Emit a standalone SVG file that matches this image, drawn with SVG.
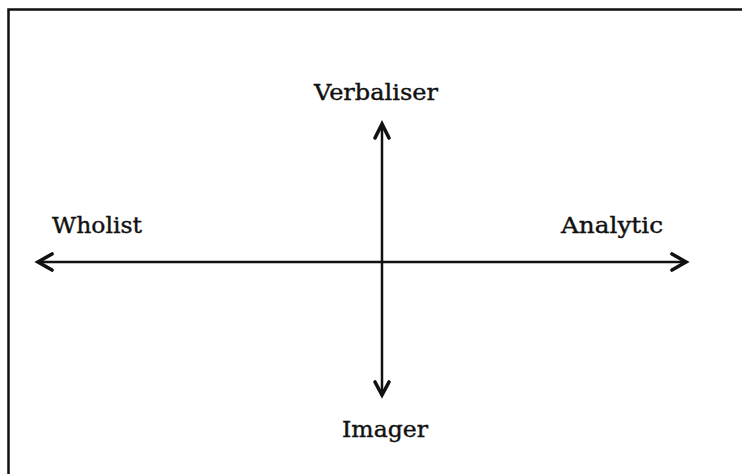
<svg xmlns="http://www.w3.org/2000/svg" width="742" height="474" viewBox="0 0 742 474">
<defs>
<style>
.lbl{font-family:"DejaVu Serif","Liberation Serif",serif;font-size:22px;fill:#111;stroke:#111;stroke-width:0.4;}
.ax{stroke:#111;stroke-width:2.5;fill:none;}
.hd{stroke:#111;stroke-width:3.6;fill:none;stroke-linecap:round;stroke-linejoin:miter;}
</style>
</defs>
<rect width="742" height="474" fill="#fff"/>
<g id="frame">
<path d="M8.5,474 V9.5 H742" fill="none" stroke="#111" stroke-width="2.5"/>
</g>
<g id="connectors">
<line class="ax" x1="38" y1="262" x2="686" y2="262"/>
<polyline class="hd" points="52,254 38,262 52,270"/>
<polyline class="hd" points="672,254 686,262 672,270"/>
<line class="ax" x1="382" y1="125" x2="382" y2="394"/>
<polyline class="hd" points="375,138 382,124 389,138"/>
<polyline class="hd" points="375,382 382,395 389,382"/>
</g>
<g id="verbaliser"><text class="lbl" x="376" y="100" text-anchor="middle" textLength="124" lengthAdjust="spacingAndGlyphs">Verbaliser</text></g>
<g id="wholist"><text class="lbl" x="52" y="233" textLength="90" lengthAdjust="spacingAndGlyphs">Wholist</text></g>
<g id="analytic"><text class="lbl" x="561" y="233" textLength="102" lengthAdjust="spacingAndGlyphs">Analytic</text></g>
<g id="imager"><text class="lbl" x="385" y="437" text-anchor="middle" textLength="86" lengthAdjust="spacingAndGlyphs">Imager</text></g>
</svg>
